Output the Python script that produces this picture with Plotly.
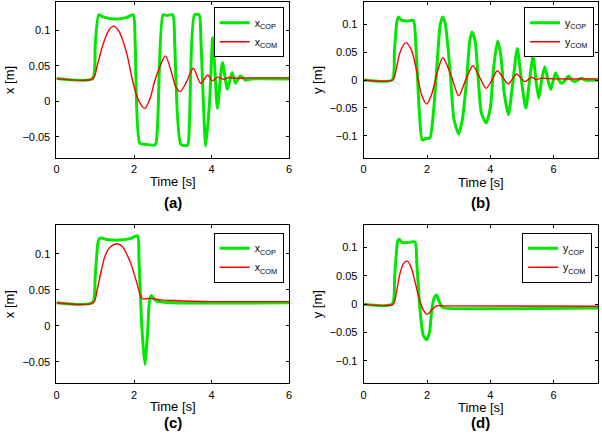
import plotly.graph_objects as go

# ---------------- data ----------------
# (a) x direction, case 1
ta_com = [0, 0.94, 1.05, 1.2, 1.35, 1.47, 1.6, 1.8, 1.98, 2.11, 2.28, 2.42, 2.53, 2.7, 2.81, 2.96, 3.08, 3.19, 3.36, 3.53, 3.72, 3.9, 4.02, 4.15, 4.3, 4.45, 4.6, 5.0, 6.0]
xa_com = [0.032, 0.032, 0.05, 0.08, 0.1, 0.106, 0.1, 0.07, 0.025, 0.002, -0.01, 0.005, 0.028, 0.053, 0.064, 0.042, 0.02, 0.0136, 0.028, 0.0466, 0.025, 0.037, 0.0287, 0.034, 0.031, 0.0335, 0.0325, 0.033, 0.033]
ta_cop = [0, 0.93, 1.0, 1.09, 1.2, 1.5, 1.8, 1.98, 2.03, 2.15, 2.3, 2.55, 2.61, 2.75, 2.85, 3.0, 3.05, 3.21, 3.38, 3.43, 3.56, 3.68, 3.73, 3.85, 3.95, 4.03, 4.09, 4.15, 4.28, 4.41, 4.53, 4.62, 4.74, 4.87, 5.0, 6.0]
xa_cop = [0.032, 0.032, 0.08, 0.122, 0.119, 0.116, 0.118, 0.122, 0.08, -0.059, -0.061, -0.061, -0.03, 0.122, 0.121, 0.122, 0.08, -0.061, -0.062, -0.03, 0.122, 0.122, 0.08, -0.063, 0.0, 0.09, 0.04, -0.01, 0.0546, 0.017, 0.0405, 0.0254, 0.0357, 0.030, 0.0315, 0.0315]

# (b) y direction, case 1
tb_com = [0, 0.92, 1.0, 1.15, 1.33, 1.5, 1.66, 1.82, 1.99, 2.15, 2.33, 2.5, 2.75, 3.0, 3.22, 3.45, 3.66, 3.87, 4.05, 4.22, 4.4, 4.57, 4.7, 4.83, 4.96, 5.09, 5.2, 5.3, 5.45, 5.6, 6.0, 7.4]
yb_com = [0, 0, 0.012, 0.05, 0.067, 0.055, 0.02, -0.025, -0.043, -0.025, 0.015, 0.04, 0.01, -0.028, 0.0, 0.0256, 0.005, -0.015, 0.0, 0.0166, 0.004, -0.007, 0.002, 0.0107, 0.004, -0.003, 0.001, 0.005, 0.001, 0.003, 0.002, 0.002]
tb_cop = [0, 0.9, 0.97, 1.05, 1.1, 1.2, 1.4, 1.57, 1.65, 1.75, 1.85, 1.95, 2.09, 2.2, 2.32, 2.42, 2.5, 2.58, 2.66, 2.75, 2.85, 3.0, 3.12, 3.25, 3.35, 3.42, 3.52, 3.62, 3.72, 3.87, 4.0, 4.1, 4.23, 4.33, 4.43, 4.57, 4.7, 4.85, 4.98, 5.12, 5.24, 5.35, 5.44, 5.53, 5.62, 5.72, 5.82, 5.91, 5.99, 6.06, 6.16, 6.26, 6.37, 6.47, 6.57, 6.67, 6.77, 6.87, 7.0, 7.4]
yb_cop = [0, 0, 0.05, 0.105, 0.113, 0.107, 0.106, 0.107, 0.06, -0.05, -0.108, -0.105, -0.104, -0.06, 0.03, 0.1, 0.113, 0.1, 0.06, 0.0, -0.07, -0.097, -0.07, 0.0, 0.07, 0.086, 0.07, 0.0, -0.06, -0.077, -0.05, 0.02, 0.07, 0.045, -0.02, -0.0625, -0.01, 0.0566, 0.0, -0.0506, 0.0, 0.043, 0.0, -0.0327, 0.0, 0.024, 0.0, -0.017, 0.0, 0.013, 0.0, -0.006, 0.0, 0.007, 0.0, -0.003, 0.0, 0.003, 0.0, 0.0]

# (c) x direction, case 2
tc_com = [0, 0.95, 1.05, 1.15, 1.26, 1.4, 1.56, 1.7, 1.85, 1.94, 2.07, 2.19, 2.25, 2.4, 2.7, 3.0, 3.5, 4.0, 6.0]
xc_com = [0.032, 0.032, 0.05, 0.075, 0.098, 0.11, 0.114, 0.11, 0.095, 0.083, 0.06, 0.039, 0.037, 0.038, 0.036, 0.035, 0.034, 0.0335, 0.0335]
tc_cop = [0, 0.93, 1.0, 1.08, 1.13, 1.3, 1.6, 1.9, 2.09, 2.13, 2.2, 2.28, 2.35, 2.4, 2.45, 2.52, 2.6, 3.0, 6.0]
xc_cop = [0.032, 0.032, 0.07, 0.118, 0.122, 0.12, 0.119, 0.121, 0.125, 0.09, 0.0, -0.054, -0.01, 0.035, 0.042, 0.037, 0.034, 0.032, 0.0318]

# (d) y direction, case 2
td_com = [0, 0.93, 1.03, 1.15, 1.27, 1.38, 1.5, 1.62, 1.75, 1.88, 2.01, 2.15, 2.3, 2.5, 7.4]
yd_com = [0, 0, 0.02, 0.055, 0.073, 0.076, 0.065, 0.04, 0.01, -0.01, -0.018, -0.01, -0.003, -0.003, -0.0036]
td_cop = [0, 0.9, 0.98, 1.07, 1.12, 1.2, 1.4, 1.62, 1.68, 1.78, 1.88, 1.99, 2.08, 2.15, 2.22, 2.3, 2.38, 2.48, 2.58, 7.4]
yd_cop = [0, 0, 0.05, 0.11, 0.115, 0.109, 0.109, 0.11, 0.07, -0.01, -0.055, -0.063, -0.05, -0.01, 0.01, 0.016, 0.005, -0.005, -0.007, -0.007]

panel_labels = ["(a)", "(b)", "(c)", "(d)"]
x_ticks_ab = [0, 2, 4, 6]
y_ticks_x = [-0.05, 0, 0.05, 0.1]
y_ticks_y = [-0.1, -0.05, 0, 0.05, 0.1]

GREEN = "#00e800"
RED = "#ff0000"
FONT = "Liberation Sans, Arial, Helvetica, sans-serif"

W, H = 602, 439

def px_x(a, b):
    return [a / W, b / W]

def px_y(top, bottom):
    return [1 - bottom / H, 1 - top / H]

fig = go.Figure()

panels = [
    (ta_cop, xa_cop, ta_com, xa_com, "x", "legend", ""),
    (tb_cop, yb_cop, tb_com, yb_com, "y", "legend2", "2"),
    (tc_cop, xc_cop, tc_com, xc_com, "x", "legend3", "3"),
    (td_cop, yd_cop, td_com, yd_com, "y", "legend4", "4"),
]

for t1, v1, t2, v2, var, leg, ax in panels:
    fig.add_trace(go.Scatter(x=t1, y=v1, mode="lines", name=f"{var}<sub>COP</sub>",
                             line=dict(color=GREEN, width=3, shape="spline", smoothing=0.6),
                             xaxis="x" + ax, yaxis="y" + ax, legend=leg))
    fig.add_trace(go.Scatter(x=t2, y=v2, mode="lines", name=f"{var}<sub>COM</sub>",
                             line=dict(color=RED, width=1.4, shape="spline", smoothing=0.8),
                             xaxis="x" + ax, yaxis="y" + ax, legend=leg))

dom_x = [px_x(54, 289), px_x(364.3, 601), px_x(54, 289), px_x(364.3, 601)]
dom_y = [px_y(2, 158), px_y(2, 158), px_y(225, 383.3), px_y(225, 383.3)]
x_ranges = [[0, 6], [0, 7.4], [0, 6], [0, 7.4]]
y_ranges = [[-0.08, 0.14], [-0.14, 0.14], [-0.08, 0.14], [-0.14, 0.14]]
y_titles = ["x [m]", "y [m]", "x [m]", "y [m]"]
y_tickvals = [y_ticks_x, y_ticks_y, y_ticks_x, y_ticks_y]

axis_common = dict(showline=True, linecolor="black", linewidth=1, mirror="ticks",
                   ticks="inside", ticklen=3, tickcolor="black", showgrid=False,
                   zeroline=False, tickfont=dict(family=FONT, size=11, color="black"))

layout = {}
for i in range(4):
    sfx = "" if i == 0 else str(i + 1)
    layout["xaxis" + sfx] = dict(domain=dom_x[i], range=x_ranges[i], tickvals=x_ticks_ab,
                                 anchor="y" + sfx, ticklabelstandoff=1,
                                 title=dict(text="Time [s]", standoff=2,
                                            font=dict(family=FONT, size=13, color="black")),
                                 **axis_common)
    layout["yaxis" + sfx] = dict(domain=dom_y[i], range=y_ranges[i], tickvals=y_tickvals[i],
                                 anchor="x" + sfx, ticklabelstandoff=3,
                                 title=dict(text=y_titles[i], standoff=4,
                                            font=dict(family=FONT, size=13, color="black")),
                                 **axis_common)

leg_common = dict(xanchor="right", yanchor="top", bgcolor="white", bordercolor="black",
                  borderwidth=1, font=dict(family=FONT, size=10.5, color="black"),
                  itemwidth=30, tracegroupgap=0)
layout["legend"] = dict(x=283.5 / W, y=1 - 7.3 / H, **leg_common)
layout["legend2"] = dict(x=597 / W, y=1 - 7.3 / H, **leg_common)
layout["legend3"] = dict(x=283.5 / W, y=1 - 232.7 / H, **leg_common)
layout["legend4"] = dict(x=595 / W, y=1 - 232.7 / H, **leg_common)

ann = []
ann_pos = [(171.5, 202.8), (482.6, 202.8), (171.5, 422.5), (482.6, 422.5)]
for lab, (ax_, ay_) in zip(panel_labels, ann_pos):
    ann.append(dict(text=f"<b>{lab}</b>", x=ax_ / W, y=1 - ay_ / H, xref="paper", yref="paper",
                    xanchor="center", yanchor="middle", showarrow=False,
                    font=dict(family=FONT, size=15, color="black")))

fig.update_layout(width=W, height=H, margin=dict(l=0, r=0, t=0, b=0),
                  paper_bgcolor="white", plot_bgcolor="white", annotations=ann,
                  **layout)

# remove the browser's default 8px body margin so the figure sits at the page origin
fig.write_html("out.html", config={"displayModeBar": False},
               post_script="document.body.style.margin='0px';document.body.style.overflow='hidden';")
